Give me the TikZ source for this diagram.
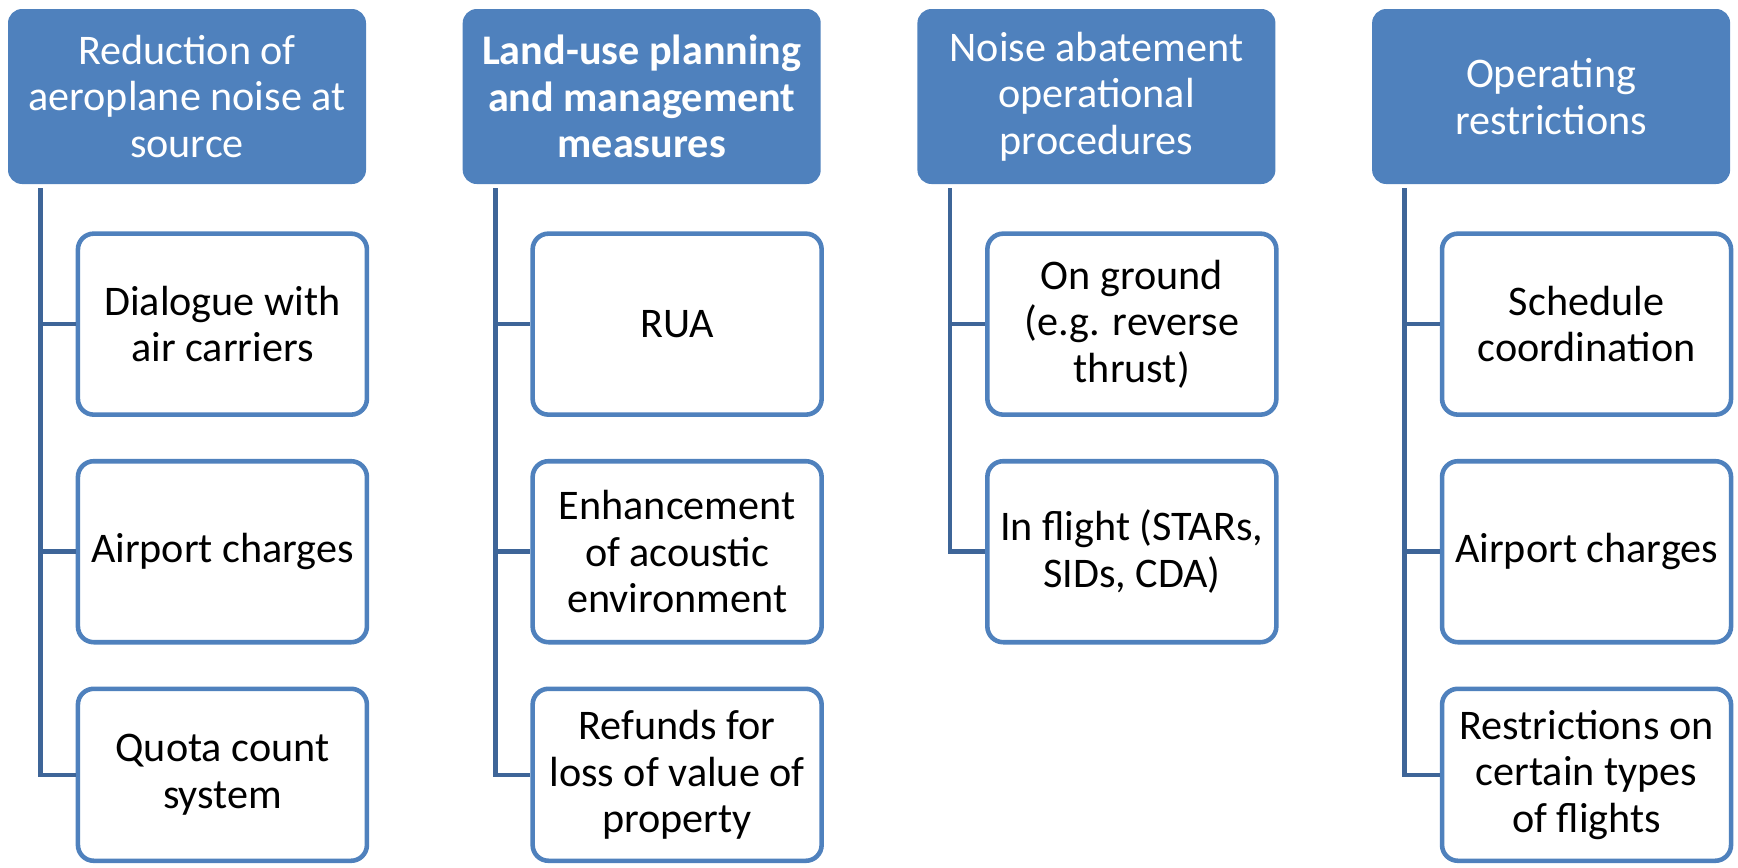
\documentclass[tikz,border=0pt]{standalone}
\usepackage{fontspec}
\setmainfont{Carlito}
\usetikzlibrary{positioning}
\definecolor{hdrblue}{RGB}{79,129,189}
\definecolor{linkblue}{RGB}{62,101,152}

\begin{document}
\begin{tikzpicture}[
        node distance=1.92cm,
        header/.style={rectangle, fill=hdrblue, text=white, minimum width=7.16cm, minimum height=3.5cm, align=center, rounded corners=8pt, inner sep=2pt, font=\fontsize{24}{26.5}\selectfont},
        leaf/.style={rectangle, draw=hdrblue, line width=2.6pt, fill=white, minimum width=5.78cm, minimum height=3.62cm, align=center, rounded corners=9pt, inner sep=2pt, font=\fontsize{24}{26.5}\selectfont},
        last/.style={leaf, minimum height=3.44cm},
        link/.style={draw=linkblue, line width=2.6pt}
    ]
        \useasboundingbox (0,0) rectangle (34.76,-17.34);

        \node[header] (H1) at (3.74,-1.93) {Reduction of\\aeroplane noise at\\source};
        \node[header, right=of H1] (H2) {\textbf{Land-use planning}\\\textbf{and management}\\\textbf{measures}};
        \node[header, right=of H2] (H3) {Noise abatement\\operational\\procedures};
        \node[header, right=of H3] (H4) {Operating\\restrictions};

        \node[leaf, below right=0.94cm and 1.36cm of H1.south west] (C11) {Dialogue with\\air carriers};
        \node[leaf, below=0.84cm of C11] (C12) {Airport charges};
        \node[last, below=0.84cm of C12] (C13) {Quota count\\system};

        \node[leaf, below right=0.94cm and 1.36cm of H2.south west] (C21) {RUA};
        \node[leaf, below=0.84cm of C21] (C22) {Enhancement\\of acoustic\\environment};
        \node[last, below=0.84cm of C22] (C23) {Refunds for\\loss of value of\\property};

        \node[leaf, below right=0.94cm and 1.36cm of H3.south west] (C31) {On ground\\(e.g. reverse\\thrust)};
        \node[leaf, below=0.84cm of C31] (C32) {In flight (STARs,\\SIDs, CDA)};

        \node[leaf, below right=0.94cm and 1.36cm of H4.south west] (C41) {Schedule\\coordination};
        \node[leaf, below=0.84cm of C41] (C42) {Airport charges};
        \node[last, below=0.84cm of C42] (C43) {Restrictions on\\certain types\\of flights};

        \foreach \c in {C11,C12,C13}
            \draw[link] ([xshift=0.66cm, yshift=-0.08cm]H1.south west) |- (\c.west);
        \foreach \c in {C21,C22,C23}
            \draw[link] ([xshift=0.66cm, yshift=-0.08cm]H2.south west) |- (\c.west);
        \foreach \c in {C31,C32}
            \draw[link] ([xshift=0.66cm, yshift=-0.08cm]H3.south west) |- (\c.west);
        \foreach \c in {C41,C42,C43}
            \draw[link] ([xshift=0.66cm, yshift=-0.08cm]H4.south west) |- (\c.west);
    \end{tikzpicture}
\end{document}
